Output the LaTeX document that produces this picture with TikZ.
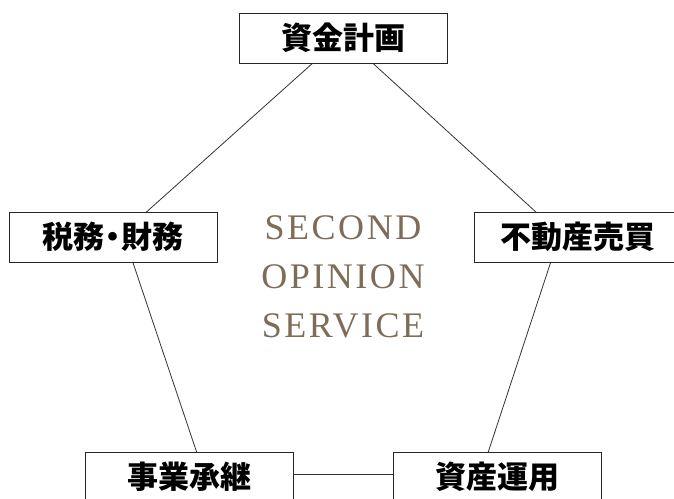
\documentclass[tikz,border=0pt]{standalone}
\usepackage{fontspec}
\newfontfamily\jpfont{Noto Sans CJK JP}
\newfontfamily\enfont[LetterSpace=7]{Liberation Serif}
\definecolor{opinion}{RGB}{125,108,88}
\tikzset{box/.style={draw=black!85,line width=1pt,fill=white,minimum width=208pt,minimum height=50pt,inner sep=0pt,font=\jpfont\bfseries\fontsize{31}{31}\selectfont},
         side/.style={black!80,line width=0.8pt},
         word/.style={anchor=base,inner sep=0pt,text=opinion,font=\enfont\fontsize{36}{36}\selectfont}}

\begin{document}
\begin{tikzpicture}[x=1pt,y=-1pt]

            % \draw [help lines] (0,0) grid (674,498);
            \useasboundingbox (0,0) rectangle (674,498);

            \path   (343,36) coordinate (pa)
                    (123,233) coordinate (pb)
                    (560,234) coordinate (pc)
                    (204,474) coordinate (pd)
                    (481,474) coordinate (pe);

            \draw[side] (pa) -- (pb);
            \draw[side] (pa) -- (pc);
            \draw[side] (pb) -- (pd);
            \draw[side] (pc) -- (pe);
            \draw[side] (pd) -- (pe);

            \path   (343,38) node (a) [box] {資金計画}
                    (113,237) node (b) [box] {税務\hspace{-7pt}・\hspace{-7pt}財務}
                    (578,237) node (c) [box] {不動産売買}
                    (189.5,477) node (d) [box] {事業承継}
                    (497.5,477) node (e) [box] {資産運用};

            \path   (343,239) node (s) [word] {SECOND}
                    (343,288) node (o) [word] {OPINION}
                    (343,337) node (v) [word] {SERVICE};

\end{tikzpicture}
\end{document}
